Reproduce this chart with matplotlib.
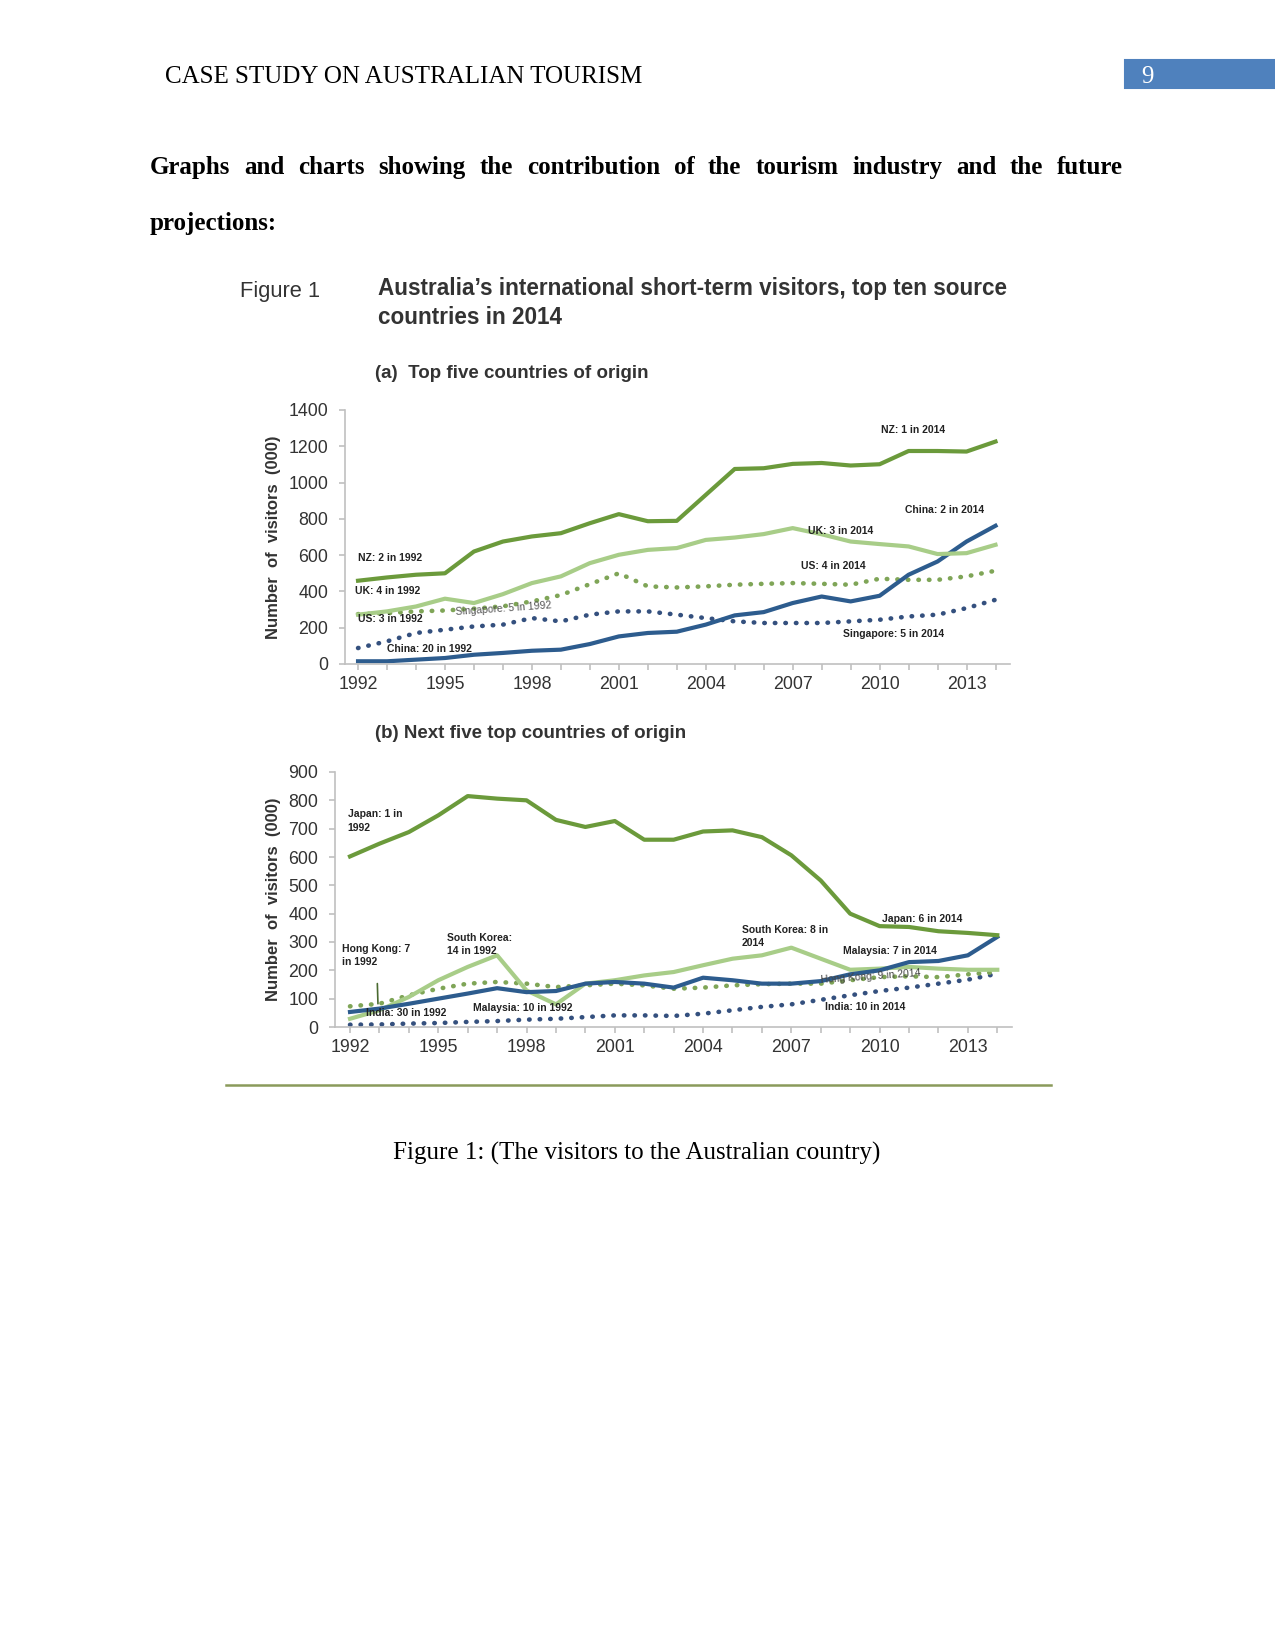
import matplotlib
matplotlib.use("Agg")
import matplotlib.pyplot as plt

# page geometry (pixels of a 1275x1650 page)
W, H = 1275, 1650

def fx(x):
    return x / W

def fy(y):
    return 1 - y / H

years = list(range(1992, 2015))
tick_years = [1992, 1995, 1998, 2001, 2004, 2007, 2010, 2013]

# (a) top five countries, visitors (000)
nz = [459, 477, 492, 500, 620, 675, 703, 721, 776, 826, 787, 789,
      932, 1075, 1079, 1103, 1108, 1094, 1101, 1174, 1174, 1171, 1226]
uk = [272, 290, 317, 360, 336, 385, 446, 483, 556, 602, 629, 639,
      684, 697, 716, 749, 715, 675, 661, 648, 606, 611, 657]
us = [275, 280, 290, 295, 305, 318, 345, 380, 440, 500, 428, 422,
      428, 437, 442, 446, 442, 437, 470, 464, 464, 483, 514]
singapore = [88, 125, 171, 189, 207, 217, 253, 235, 272, 290, 290, 272,
             253, 235, 226, 226, 226, 235, 244, 262, 272, 308, 354]
china = [15, 15, 24, 33, 51, 61, 73, 79, 110, 152, 171, 178,
         217, 268, 286, 336, 372, 345, 376, 492, 565, 675, 762]

# (b) next five countries, visitors (000)
japan = [602, 647, 688, 747, 815, 806, 800, 731, 706, 727, 661, 661,
         690, 694, 670, 606, 517, 400, 356, 353, 338, 332, 324]
south_korea = [29, 59, 106, 165, 212, 253, 129, 80, 153, 165, 182, 194,
               218, 241, 253, 280, 241, 202, 206, 212, 206, 202, 202]
malaysia = [53, 65, 82, 100, 118, 137, 123, 127, 153, 159, 153, 139,
            174, 165, 153, 153, 162, 186, 200, 229, 233, 253, 318]
hong_kong = [73, 82, 112, 135, 153, 159, 153, 141, 147, 153, 147, 135,
             139, 147, 151, 153, 153, 165, 176, 179, 176, 186, 194]
india = [8, 9, 12, 14, 18, 21, 26, 29, 35, 41, 41, 39,
         47, 59, 71, 80, 96, 112, 127, 139, 153, 167, 188]

DARK_GREEN = "#6b9a3b"
LIGHT_GREEN = "#a8cd88"
DOT_GREEN = "#7fa557"
DARK_BLUE = "#2d5c8e"
DOT_BLUE = "#34507e"
TXT = "#333333"
SANS = ["Liberation Sans", "DejaVu Sans"]
SERIF = ["Liberation Serif", "DejaVu Serif"]

plt.rcParams["font.family"] = SANS

fig = plt.figure(figsize=(8.5, 11), dpi=150)

# ---- page header ----
fig.text(fx(165), fy(83), "CASE STUDY ON AUSTRALIAN TOURISM", family=SERIF,
         fontsize=12, va="baseline", ha="left", color="black")
fig.patches.append(plt.Rectangle((fx(1125), fy(88)), fx(150), (88 - 60) / H,
                                 transform=fig.transFigure, color="#4f81bd"))
fig.text(fx(1141), fy(83), "9", family=SERIF, fontsize=12, va="baseline",
         ha="left", color="white")

# ---- justified bold paragraph ----
line1 = "Graphs and charts showing the contribution of the tourism industry and the future"
word_texts = [fig.text(0, fy(174), w, family=SERIF, fontsize=12, fontweight="bold",
                       va="baseline", ha="left") for w in line1.split()]
fig.text(fx(150), fy(230), "projections:", family=SERIF, fontsize=12,
         fontweight="bold", va="baseline", ha="left")
fig.canvas.draw()
rend = fig.canvas.get_renderer()
widths = [t.get_window_extent(rend).width for t in word_texts]
gap = (1123 - 150 - sum(widths)) / (len(widths) - 1)
xpos = 150
for t, wd in zip(word_texts, widths):
    t.set_x(fx(xpos))
    xpos += wd + gap

# ---- figure heading ----
fig.text(fx(240), fy(291), "Figure 1", fontsize=10.5, color=TXT, va="center")
fig.text(fx(378), fy(303), "Australia\u2019s international short-term visitors, top ten source\ncountries in 2014",
         fontsize=10.8, fontweight="bold", color=TXT, va="center", linespacing=1.3)
fig.text(fx(375), fy(374), "(a)  Top five countries of origin", fontsize=9,
         fontweight="bold", color=TXT, va="center")
fig.text(fx(375), fy(734), "(b) Next five top countries of origin", fontsize=9,
         fontweight="bold", color=TXT, va="center")


def style_axes(ax, ymax, ystep):
    ax.set_xlim(1991.55, 2014.5)
    ax.set_ylim(0, ymax)
    for s in ("top", "right"):
        ax.spines[s].set_visible(False)
    for s in ("left", "bottom"):
        ax.spines[s].set_color("#c0c0c0")
        ax.spines[s].set_linewidth(0.8)
    ax.set_xticks(years, minor=True)
    ax.set_xticks(tick_years)
    ax.set_yticks(range(0, ymax + 1, ystep))
    ax.tick_params(axis="both", which="both", colors="#c0c0c0", labelcolor=TXT,
                   labelsize=8.5, length=3, width=0.8)
    ax.tick_params(axis="x", pad=3)
    ax.tick_params(axis="y", pad=5)
    ax.set_ylabel("Number  of  visitors  (000)", fontsize=8, fontweight="bold",
                  color=TXT)
    ax.patch.set_alpha(0)


dot = dict(linestyle=(0, (0.1, 2.2)), dash_capstyle="round", linewidth=2.2)
solid = dict(linewidth=2.0, solid_joinstyle="round")
small = dict(fontsize=5, fontweight="bold", color="#222222", va="center", ha="left")

# ---- (a) top five ----
ax1 = fig.add_axes([fx(345), fy(664), fx(1010 - 345), (664 - 410) / H])
style_axes(ax1, 1400, 200)
ax1.yaxis.set_label_coords(-(345 - 281) / (1010 - 345), 0.5)
ax1.plot(years, singapore, color=DOT_BLUE, **dot)
ax1.plot(years, us, color=DOT_GREEN, **dot)
ax1.plot(years, china, color=DARK_BLUE, **solid)
ax1.plot(years, uk, color=LIGHT_GREEN, **solid)
ax1.plot(years, nz, color=DARK_GREEN, **solid)

ax1.text(1992, 585, "NZ: 2 in 1992", **small)
ax1.text(1991.9, 400, "UK: 4 in 1992", **small)
ax1.text(1992, 250, "US: 3 in 1992", **small)
ax1.text(1995.35, 305, "Singapore: 5 in 1992", rotation=4, fontsize=5,
         color="#555555", va="center", ha="left")
ax1.text(1993.0, 84, "China: 20 in 1992", **small)
ax1.text(2010.06, 1290, "NZ: 1 in 2014", **small)
ax1.text(2010.86, 850, "China: 2 in 2014", **small)
ax1.text(2007.52, 734, "UK: 3 in 2014", **small)
ax1.text(2007.29, 538, "US: 4 in 2014", **small)
ax1.text(2008.73, 165, "Singapore: 5 in 2014", **small)

# ---- (b) next five ----
ax2 = fig.add_axes([fx(335), fy(1027), fx(1012 - 335), (1027 - 772) / H])
style_axes(ax2, 900, 100)
ax2.set_xlim(1991.49, 2014.5)
ax2.yaxis.set_label_coords(-(335 - 281) / (1012 - 335), 0.5)
ax2.plot(years, india, color=DOT_BLUE, **dot)
ax2.plot(years, hong_kong, color=DOT_GREEN, **dot)
ax2.plot(years, south_korea, color=LIGHT_GREEN, **solid)
ax2.plot(years, malaysia, color=DARK_BLUE, **solid)
ax2.plot(years, japan, color=DARK_GREEN, **solid)

ax2.text(1991.92, 727, "Japan: 1 in\n1992", linespacing=1.4, **small)
ax2.annotate("Hong Kong: 7\nin 1992", xy=(years[1] - 0.05, hong_kong[1]),
             xytext=(1991.74, 253), linespacing=1.4,
             arrowprops=dict(arrowstyle="-", color="#4a6a30", lw=0.8,
                             shrinkA=6, shrinkB=0), **small)
ax2.text(1995.3, 292, "South Korea:\n14 in 1992", linespacing=1.4, **small)
ax2.text(1992.56, 51, "India: 30 in 1992", **small)
ax2.text(1996.17, 67, "Malaysia: 10 in 1992", **small)
ax2.text(2010.09, 382, "Japan: 6 in 2014", **small)
ax2.text(2005.31, 320, "South Korea: 8 in\n2014", linespacing=1.4, **small)
ax2.text(2008.75, 270, "Malaysia: 7 in 2014", **small)
ax2.text(2007.99, 178, "Hong Kong: 9 in 2014", rotation=4, fontsize=5,
         color="#444444", va="center", ha="left")
ax2.text(2008.16, 71, "India: 10 in 2014", **small)

# ---- rule and caption ----
fig.add_artist(plt.Line2D([fx(226), fx(1051)], [fy(1085), fy(1085)],
                          transform=fig.transFigure, color="#8a9a5b", lw=1.2))
fig.text(fx(637), fy(1153), "Figure 1: (The visitors to the Australian country)",
         family=SERIF, fontsize=12, ha="center", va="center", color="black")

fig.savefig("out.png", dpi=150)
